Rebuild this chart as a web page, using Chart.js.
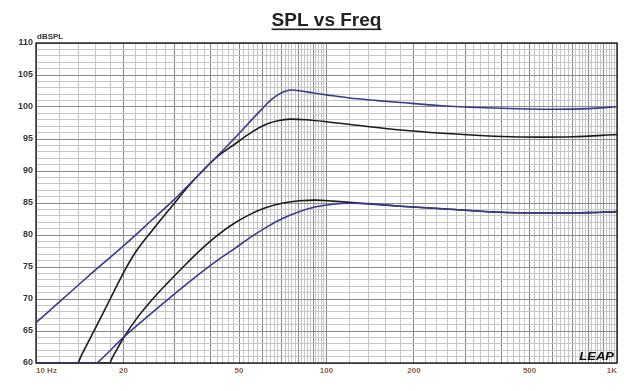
<!DOCTYPE html>
<html><head><meta charset="utf-8">
<script src="https://cdn.jsdelivr.net/npm/chart.js@4"></script>
<style>html,body{margin:0;padding:0;background:#fff;}canvas{display:block;}</style>
</head><body>
<canvas id="c" width="644" height="391"></canvas>
<script>
// ---- data ----
const freqBlueHigh = [10, 12.5, 15, 20, 25, 30, 33, 36.7, 42, 48, 54, 60, 64, 68, 72, 76, 82, 90, 100, 120, 150, 180, 250, 400, 600, 800, 1000];
const splBlueHigh  = [66.3, 70.2, 73.4, 78.3, 82.3, 85.6, 87.5, 89.6, 92.3, 95.0, 97.5, 99.7, 101.0, 101.9, 102.45, 102.65, 102.5, 102.2, 101.9, 101.4, 101.0, 100.7, 100.2, 99.8, 99.65, 99.75, 100.05];

const freqBlackHigh = [10, 13.9, 14.3, 16, 18, 20, 22, 25, 30, 33, 36.7, 42, 48, 55, 62, 68, 75, 85, 100, 130, 180, 250, 400, 550, 700, 1000];
const splBlackHigh  = [60, 60, 61.1, 65.4, 70.0, 74.1, 77.3, 80.6, 85.0, 87.3, 89.6, 92.2, 94.1, 96.0, 97.3, 97.85, 98.1, 98.0, 97.7, 97.1, 96.4, 95.9, 95.4, 95.3, 95.35, 95.7];

const freqBlueLow = [10, 16.2, 16.6, 20, 25, 30, 36.7, 42, 48, 55, 62, 70, 80, 92, 105, 120, 140, 180, 250, 400, 600, 800, 1000];
const splBlueLow  = [60, 60, 60.4, 64.0, 67.8, 70.8, 74.0, 76.0, 77.8, 79.7, 81.2, 82.5, 83.6, 84.4, 84.8, 84.95, 84.9, 84.5, 84.1, 83.55, 83.45, 83.5, 83.65];

const freqBlackLow = [10, 17.9, 18.3, 20, 22, 25, 28.5, 32.1, 36.7, 42, 48, 55, 62, 71, 81, 92, 105, 120, 140, 180, 250, 400, 600, 800, 1000];
const splBlackLow  = [60, 60, 60.8, 63.9, 66.7, 69.8, 72.6, 75.0, 77.6, 79.9, 81.8, 83.3, 84.3, 85.0, 85.35, 85.45, 85.3, 85.1, 84.85, 84.5, 84.1, 83.55, 83.45, 83.5, 83.65];

const xLabelValues = [10, 20, 50, 100, 200, 500, 1000];
const xLabelTexts  = ['10 Hz', '20', '50', '100', '200', '500', '1K'];
const yMin = 60, yMax = 110;

// grid frequencies: every 2 Hz up to 100, every 20 Hz up to 1k
const gridFreqs = [];
for (let f = 10; f <= 100; f += 2) gridFreqs.push(f);
for (let f = 120; f <= 1000; f += 20) gridFreqs.push(f);

const pts = (fs, ys) => fs.map((f, i) => ({x: f, y: ys[i]}));

const BLUE = '#3b3b8e', BLACK = '#1c1c1c';
const GRID_LIGHT = '#c6c6c6', GRID_DARK = '#8a8a8a';

const decor = {
  id: 'decor',
  beforeDatasetsDraw(chart) {
    const {ctx, chartArea: a} = chart;
    ctx.save();
    ctx.strokeStyle = '#111';
    ctx.lineWidth = 1.3;
    ctx.strokeRect(a.left, a.top, a.right - a.left, a.bottom - a.top);
    ctx.restore();
  },
  afterDraw(chart) {
    const {ctx, chartArea: a} = chart;
    ctx.save();
    // title
    ctx.font = 'bold 19px "Liberation Sans", Arial, sans-serif';
    ctx.fillStyle = '#222';
    ctx.textAlign = 'center';
    ctx.textBaseline = 'alphabetic';
    const cx = (a.left + a.right) / 2;
    const title = 'SPL vs Freq';
    ctx.fillText(title, cx, 26);
    const w = ctx.measureText(title).width;
    ctx.fillRect(cx - w / 2, 28.5, w, 1.6);
    // unit label
    ctx.font = 'bold 8px "Liberation Sans", Arial, sans-serif';
    ctx.textAlign = 'left';
    ctx.fillStyle = '#333';
    ctx.fillText('dBSPL', a.left + 1, a.top - 4);
    // LEAP logo
    ctx.translate(a.right - 3, a.bottom - 3);
    ctx.scale(1.3, 1);
    ctx.font = 'bold italic 10px "Liberation Sans", Arial, sans-serif';
    ctx.textAlign = 'right';
    ctx.fillStyle = '#111';
    ctx.fillText('LEAP', 0, 0);
    ctx.restore();
  }
};

new Chart(document.getElementById('c'), {
  type: 'line',
  data: {
    datasets: [
      {data: pts(freqBlueLow, splBlueLow), borderColor: BLUE},
      {data: pts(freqBlackLow, splBlackLow), borderColor: BLACK},
      {data: pts(freqBlueHigh, splBlueHigh), borderColor: BLUE},
      {data: pts(freqBlackHigh, splBlackHigh), borderColor: BLACK}
    ]
  },
  options: {
    responsive: false,
    animation: false,
    devicePixelRatio: 1,
    layout: {padding: {left: 0, right: 27, top: 43, bottom: 0}},
    elements: {
      point: {radius: 0},
      line: {borderWidth: 1.6, cubicInterpolationMode: 'monotone', fill: false}
    },
    plugins: {legend: {display: false}, tooltip: {enabled: false}, title: {display: false}},
    scales: {
      x: {
        type: 'logarithmic',
        min: 10, max: 1000,
        afterBuildTicks: (s) => { s.ticks = gridFreqs.map(v => ({value: v})); },
        afterFit: (s) => { s.height = 28; },
        border: {display: false},
        grid: {
          drawTicks: false,
          lineWidth: 1,
          color: (c) => {
            const v = c.tick ? c.tick.value : 0;
            return ((v <= 100 && v % 10 === 0) || v % 100 === 0) ? GRID_DARK : GRID_LIGHT;
          }
        },
        ticks: {
          autoSkip: false, maxRotation: 0, minRotation: 0,
          align: 'inner', padding: 3,
          color: '#8b5a43',
          font: {family: '"Liberation Sans", Arial, sans-serif', size: 8, weight: 'bold'},
          callback: (v) => { const i = xLabelValues.indexOf(v); return i >= 0 ? xLabelTexts[i] : ''; }
        }
      },
      y: {
        type: 'linear',
        min: yMin, max: yMax,
        afterFit: (s) => { s.width = 36; },
        border: {display: false},
        grid: {
          drawTicks: false,
          lineWidth: 1,
          color: (c) => (c.tick && c.tick.value % 5 === 0) ? GRID_DARK : GRID_LIGHT
        },
        ticks: {
          stepSize: 1, autoSkip: false, padding: 3,
          color: '#333',
          font: {family: '"Liberation Sans", Arial, sans-serif', size: 9, weight: 'bold'},
          callback: (v) => (v % 5 === 0 ? String(v) : '')
        }
      }
    }
  },
  plugins: [decor]
});
</script>
</body></html>
